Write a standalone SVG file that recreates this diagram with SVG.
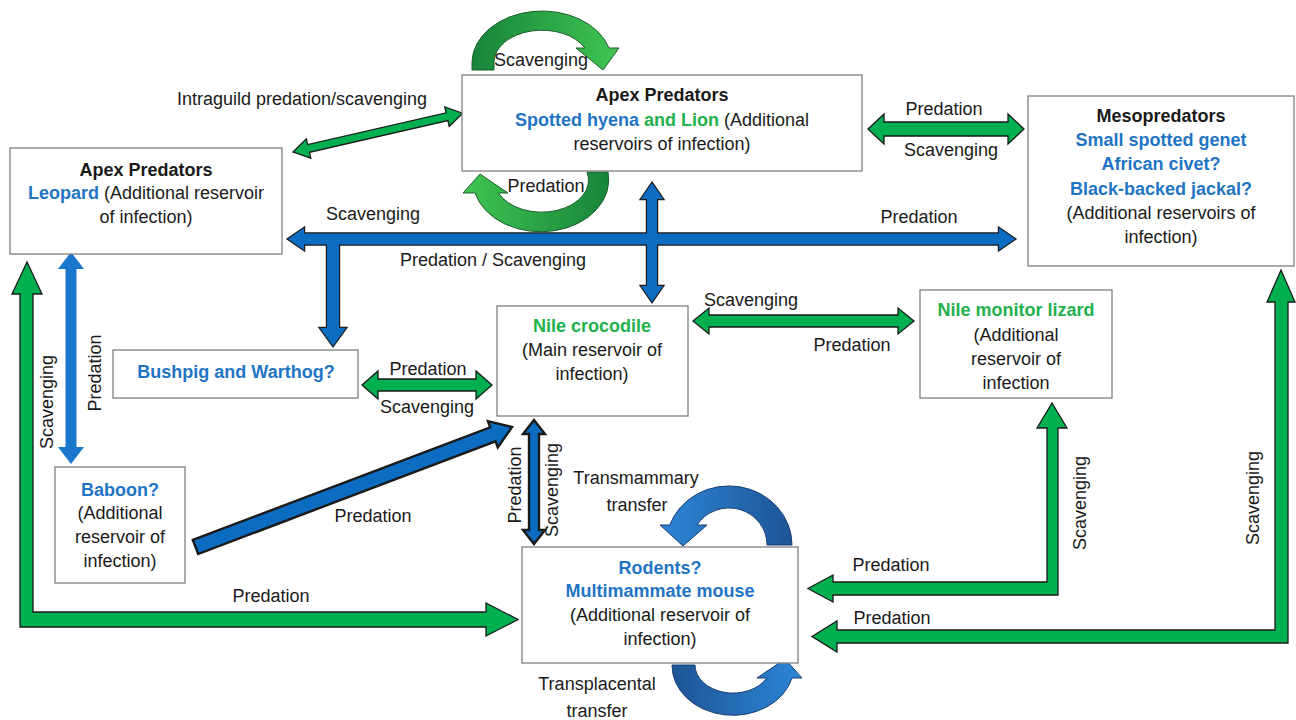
<svg xmlns="http://www.w3.org/2000/svg" xmlns:xlink="http://www.w3.org/1999/xlink" width="1296" height="720" viewBox="0 0 1296 720">
<style>
text{font-family:"Liberation Sans",Arial,sans-serif;font-size:18px;fill:#1a1a1a}
.c{text-anchor:middle}
.b{font-weight:bold}
.bl{fill:#1f74c4;font-weight:bold}
.gr{fill:#22b14c;font-weight:bold}
.box{fill:#fff;stroke:#808080;stroke-width:1.3}
.ga{fill:#00b050;stroke:#1a1a1a;stroke-width:1.3;stroke-linejoin:miter}
.bo{fill:#0b6cc2;stroke:#1a1a1a;stroke-width:2.4}
.bf{fill:#0b6cc2;stroke:none}
.bn{fill:#1b77cc;stroke:none}
.loopg{stroke:#1e5e2c;stroke-width:1}
.loopb{stroke:#1b3f73;stroke-width:1}
</style>
<defs>
<linearGradient id="gL" x1="0" y1="0" x2="1" y2="0"><stop offset="0" stop-color="#17843a"/><stop offset="1" stop-color="#40c552"/></linearGradient>
<linearGradient id="gR" x1="1" y1="0" x2="0" y2="0"><stop offset="0" stop-color="#17843a"/><stop offset="1" stop-color="#40c552"/></linearGradient>
<linearGradient id="bL" x1="1" y1="0" x2="0" y2="0"><stop offset="0" stop-color="#1d5596"/><stop offset="1" stop-color="#2c86d6"/></linearGradient>
<linearGradient id="bR" x1="0" y1="0" x2="1" y2="0"><stop offset="0" stop-color="#1d5596"/><stop offset="1" stop-color="#2c86d6"/></linearGradient>
<polygon id="bh" points="288,239 304,228 304,233.5 999,233.5 999,228 1015,239 999,250 999,244.5 304,244.5 304,250"/>
<polygon id="bv" points="652,183 663,199 657,199 657,286 663,286 652,302 641,286 647,286 647,199 641,199"/>
<polygon id="bd" points="327,241 339,241 339,328 346,328 333,346 320,328 327,328"/>
</defs>

<g id="connectors">
  <path class="loopg" fill="url(#gL)" d="M472,70 L472,62 A70,52 0 0 1 609,48 L619,48 L603,70 L576,48 L585,48 A48,32 0 0 0 494,62 L494,70 Z"/>
  <path class="loopg" fill="url(#gR)" d="M608,172 A68,52 0 0 1 475,193 L463,193 L480,174 L508,193 L498.5,193 A47,32 0 0 0 587,172 Z"/>
  <polygon class="ga" transform="translate(293,152) rotate(-12.9)" points="0,0 16,-10 16,-4 158,-4 158,-10 174,0 158,10 158,4 16,4 16,10"/>
  <polygon class="ga" points="868,129 884,114 884,122 1008,122 1008,114 1024,129 1008,144 1008,136 884,136 884,144"/>
  <use xlink:href="#bh" class="bo"/>
  <use xlink:href="#bv" class="bo"/>
  <use xlink:href="#bd" class="bo"/>
  <use xlink:href="#bh" class="bf"/>
  <use xlink:href="#bv" class="bf"/>
  <use xlink:href="#bd" class="bf"/>
  <polygon class="bn" points="71,252 84,269 76.5,269 76.5,447 84,447 71,464 58,447 65.5,447 65.5,269 58,269"/>
  <polygon class="ga" points="362,385 378,371 378,379 476,379 476,371 492,385 476,399 476,391 378,391 378,399"/>
  <polygon class="ga" points="693,321 709,308 709,315 898,315 898,308 914,321 898,334 898,327 709,327 709,334"/>
  <polygon class="bo" stroke-width="1.2" transform="translate(195.5,547) rotate(-20.76)" points="0,-7.5 318,-7.5 318,-14 338.5,0 318,14 318,7.5 0,7.5"/>
  <polygon class="bo" stroke-width="1.2" points="534,420 545,434 539,434 539,530 545,530 534,544 523,530 529,530 529,434 523,434"/>
  <polygon class="ga" points="27,262 42,294 33,294 33,612 486,612 486,603 518,619.5 486,636 486,627 20,627 20,294 12,294"/>
  <polygon class="ga" points="1052,403 1067,428 1058,428 1058,595 833,595 833,602 808,588.5 833,575 833,582 1047,582 1047,428 1037,428"/>
  <polygon class="ga" points="1281,270 1295,302 1288,302 1288,643 837,643 837,652 812,636.5 837,621 837,630 1275,630 1275,302 1267,302"/>
  <path class="loopb" fill="url(#bL)" d="M792,545 A63,59 0 0 0 669.7,525 L660,525 L683,546 L707,525 L697,525 A38,37 0 0 1 767,545 Z"/>
  <path class="loopb" fill="url(#bR)" d="M672,665 A61,50 0 0 0 792,678 L802,678 L785,659 L757,678 L766.7,678 A38,28 0 0 1 695,665 Z"/>
</g>

<g id="edge-labels">
  <text class="c" x="541" y="66">Scavenging</text>
  <text class="c" x="546" y="192">Predation</text>
  <text class="c" x="302" y="105">Intraguild predation/scavenging</text>
  <text class="c" x="944" y="115">Predation</text>
  <text class="c" x="951" y="156">Scavenging</text>
  <text class="c" x="373" y="220">Scavenging</text>
  <text class="c" x="493" y="266">Predation / Scavenging</text>
  <text class="c" x="919" y="223">Predation</text>
  <text class="c" x="428" y="375">Predation</text>
  <text class="c" x="427" y="413">Scavenging</text>
  <text class="c" x="751" y="306">Scavenging</text>
  <text class="c" x="852" y="351">Predation</text>
  <text class="c" x="373" y="522">Predation</text>
  <text class="c" x="636" y="484">Transmammary</text>
  <text class="c" x="637" y="511">transfer</text>
  <text class="c" x="597" y="690">Transplacental</text>
  <text class="c" x="597" y="717">transfer</text>
  <text class="c" x="271" y="602">Predation</text>
  <text class="c" x="891" y="571">Predation</text>
  <text class="c" x="892" y="624">Predation</text>
  <text class="c" transform="translate(53,402) rotate(-90)">Scavenging</text>
  <text class="c" transform="translate(101,373) rotate(-90)">Predation</text>
  <text class="c" transform="translate(521,485) rotate(-90)">Predation</text>
  <text class="c" transform="translate(558,490) rotate(-90)">Scavenging</text>
  <text class="c" transform="translate(1086,503) rotate(-90)">Scavenging</text>
  <text class="c" transform="translate(1259,498) rotate(-90)">Scavenging</text>
</g>

<g id="node-apex-top">
  <rect class="box" x="462" y="75" width="400" height="96"/>
  <text class="c b" x="662" y="101">Apex Predators</text>
  <text class="c" x="662" y="126"><tspan class="bl">Spotted hyena</tspan><tspan class="gr"> and Lion</tspan> (Additional</text>
  <text class="c" x="662" y="150">reservoirs of infection)</text>
</g>
<g id="node-leopard">
  <rect class="box" x="10" y="148" width="272" height="106"/>
  <text class="c b" x="146" y="176">Apex Predators</text>
  <text class="c" x="146" y="199"><tspan class="bl">Leopard</tspan> (Additional reservoir</text>
  <text class="c" x="146" y="223">of infection)</text>
</g>
<g id="node-meso">
  <rect class="box" x="1028" y="96" width="266" height="170"/>
  <text class="c b" x="1161" y="122">Mesopredators</text>
  <text class="c bl" x="1161" y="146">Small spotted genet</text>
  <text class="c bl" x="1161" y="170">African civet?</text>
  <text class="c bl" x="1161" y="195">Black-backed jackal?</text>
  <text class="c" x="1161" y="219">(Additional reservoirs of</text>
  <text class="c" x="1161" y="243">infection)</text>
</g>
<g id="node-bushpig">
  <rect class="box" x="113" y="350" width="245" height="48"/>
  <text class="c bl" x="236" y="378">Bushpig and Warthog?</text>
</g>
<g id="node-crocodile">
  <rect class="box" x="497" y="306" width="191" height="110"/>
  <text class="c gr" x="592" y="332">Nile crocodile</text>
  <text class="c" x="592" y="356">(Main reservoir of</text>
  <text class="c" x="592" y="380">infection)</text>
</g>
<g id="node-monitor">
  <rect class="box" x="920" y="290" width="192" height="108"/>
  <text class="c gr" x="1016" y="316">Nile monitor lizard</text>
  <text class="c" x="1016" y="341">(Additional</text>
  <text class="c" x="1016" y="365">reservoir of</text>
  <text class="c" x="1016" y="389">infection</text>
</g>
<g id="node-baboon">
  <rect class="box" x="55" y="467" width="130" height="116"/>
  <text class="c bl" x="120" y="496">Baboon?</text>
  <text class="c" x="120" y="519">(Additional</text>
  <text class="c" x="120" y="543">reservoir of</text>
  <text class="c" x="120" y="567">infection)</text>
</g>
<g id="node-rodents">
  <rect class="box" x="522" y="547" width="276" height="116"/>
  <text class="c bl" x="660" y="574">Rodents?</text>
  <text class="c bl" x="660" y="597">Multimammate mouse</text>
  <text class="c" x="660" y="621">(Additional reservoir of</text>
  <text class="c" x="660" y="645">infection)</text>
</g>
</svg>
